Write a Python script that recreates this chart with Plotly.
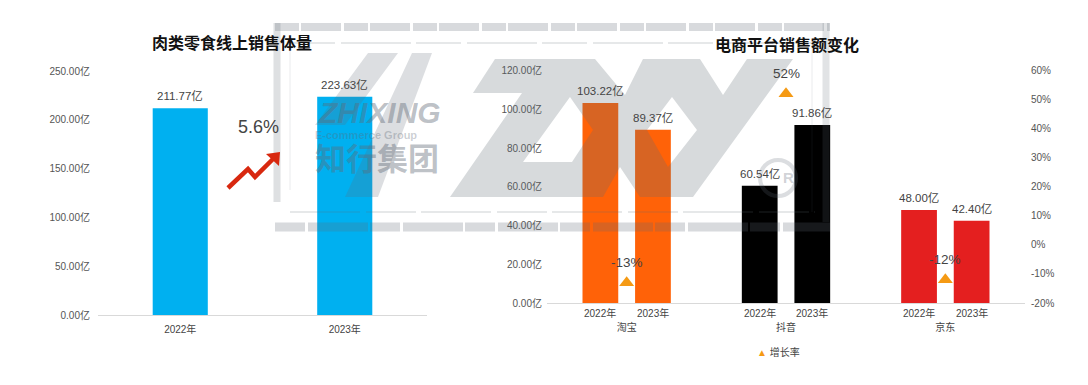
import plotly.graph_objects as go

W, H = 1088, 385
FONT = "Liberation Sans, Noto Sans CJK SC, sans-serif"

# ---- data ----
years = ["2022年", "2023年"]
volume = [211.77, 223.63]
volume_change = "5.6%"
platforms = ["淘宝", "抖音", "京东"]
sales_2022 = [103.22, 60.54, 48.00]
sales_2023 = [89.37, 91.86, 42.40]
growth = [-13, 52, -12]
platform_colors = ["#ff6208", "#000000", "#e41f1f"]
left_ticks = [0, 50, 100, 150, 200, 250]
right_ticks = [0, 20, 40, 60, 80, 100, 120]
growth_ticks = [-20, -10, 0, 10, 20, 30, 40, 50, 60]
growth_name = "增长率"
TRI = "#f59a14"


def px(x):
    return x / W


def py(y):
    return 1 - y / H


def path(*polys):
    out = []
    for poly in polys:
        pts = [f"{px(x):.5f},{py(y):.5f}" for x, y in poly]
        out.append("M" + " L".join(pts) + " Z")
    return " ".join(out)


fig = go.Figure()

fig.add_bar(x=years, y=volume, width=0.335, marker=dict(color="#00b0f0", line_width=0),
            xaxis="x", yaxis="y", showlegend=False)
fig.add_bar(x=platforms, y=sales_2022, name="2022年", marker=dict(color=platform_colors, line_width=0),
            xaxis="x2", yaxis="y2", showlegend=False)
fig.add_bar(x=platforms, y=sales_2023, name="2023年", marker=dict(color=platform_colors, line_width=0),
            xaxis="x2", yaxis="y2", showlegend=False)
fig.add_scatter(x=platforms, y=growth, name=growth_name, mode="markers",
                marker=dict(symbol="triangle-up", size=13, color=TRI, line_width=0),
                xaxis="x2", yaxis="y3", showlegend=False)

annotations = []


def note(text, x, y, size, color="#444444", **kw):
    family = kw.pop("family", FONT)
    kw.setdefault("xanchor", "center")
    kw.setdefault("yanchor", "middle")
    annotations.append(dict(text=text, x=x, y=y, showarrow=False,
                            font=dict(size=size, color=color, family=family), **kw))


# value labels, left chart
for yr, v in zip(years, volume):
    note(f"{v:.2f}亿", yr, v, 11.5, xref="x", yref="y", yanchor="bottom", yshift=4)
note(volume_change, px(258), py(127), 18, xref="paper", yref="paper")

# value labels, right chart
SHIFT = 26.2
for p, a, b, g in zip(platforms, sales_2022, sales_2023, growth):
    note(f"{a:.2f}亿", p, a, 11.5, xref="x2", yref="y2", yanchor="bottom", yshift=4, xshift=-SHIFT)
    note(f"{b:.2f}亿", p, b, 11.5, xref="x2", yref="y2", yanchor="bottom", yshift=4, xshift=SHIFT)
    note(f"{g}%", p, g, 13.5, xref="x2", yref="y3", yshift=20)
    note(years[0], p, py(313), 10, xref="x2", yref="paper", xshift=-SHIFT)
    note(years[1], p, py(313), 10, xref="x2", yref="paper", xshift=SHIFT)

# titles
note("<b>肉类零食线上销售体量</b>", px(232), py(43), 16, color="#111111", xref="paper", yref="paper")
note("<b>电商平台销售额变化</b>", px(787), py(45), 16, color="#111111", xref="paper", yref="paper")

# legend entry
note(f"<span style='color:{TRI};font-size:10px'>▲</span> {growth_name}", px(778), py(352), 10,
     xref="paper", yref="paper")

# watermark text
WM = "rgba(95,105,118,0.42)"
note("<b><i>ZHIXING</i></b>", px(379), py(112), 30, color=WM, xref="paper", yref="paper")
note("<b>E-commerce Group</b>", px(366), py(135), 11, color="rgba(95,105,118,0.32)", xref="paper", yref="paper")
note("<b>知行集团</b>", px(377), py(159), 31, color=WM, xref="paper", yref="paper")
note("<b>R</b>", px(788), py(178), 15, color="rgba(95,105,118,0.3)", xref="paper", yref="paper")

GREY = "#5f6a75"
zxy_outer = [(495, 59), (595, 59), (625, 95), (643, 59), (700, 59), (723, 95), (747, 59), (793, 59),
             (693, 197), (640, 197), (620, 167), (603, 197), (450, 197), (522, 93), (473, 93)]
zxy_hole1 = [(570, 97), (593, 130), (572, 162), (523, 162)]
zxy_hole2 = [(672, 97), (697, 130), (668, 167), (647, 130)]
slash1 = [(368, 53), (398, 53), (345, 125), (315, 125)]
slash2 = [(412, 53), (432, 53), (378, 197), (345, 197)]

shapes = [
    dict(type="path", path=path(zxy_outer, zxy_hole1, zxy_hole2), xref="paper", yref="paper",
         fillcolor=GREY, opacity=0.25, line_width=0, layer="above"),
    dict(type="path", path=path(slash1, slash2), xref="paper", yref="paper",
         fillcolor=GREY, opacity=0.22, line_width=0, layer="above"),
    dict(type="circle", x0=px(760), x1=px(796), y0=py(196), y1=py(160), xref="paper", yref="paper",
         line=dict(color=GREY, width=4), opacity=0.22, layer="above"),
]


def wm_line(x0, y0, x1, y1, width, dash, opacity):
    shapes.append(dict(type="line", x0=px(x0), x1=px(x1), y0=py(y0), y1=py(y1),
                       xref="paper", yref="paper", layer="above", opacity=opacity,
                       line=dict(color=GREY, width=width, dash=dash)))


wm_line(275, 27, 830, 27, 8, "24px,2px,40px,3px", 0.24)     # top band
wm_line(275, 227, 830, 227, 9, "30px,3px,60px,2px", 0.24)   # bottom band
wm_line(277, 23, 277, 202, 7, "solid", 0.2)                  # left bar
wm_line(826, 23, 826, 222, 7, "solid", 0.18)                 # right bar
wm_line(290, 43, 815, 43, 1.5, "45px,6px,70px,5px", 0.2)
wm_line(290, 212, 815, 212, 1.5, "70px,6px,50px,5px", 0.2)
wm_line(290, 43, 290, 190, 1, "solid", 0.12)
wm_line(812, 43, 812, 212, 1, "solid", 0.12)

# red arrow
RED = "#d8280f"
shapes.append(dict(type="path", xref="paper", yref="paper", layer="above", fillcolor="rgba(0,0,0,0)",
                   line=dict(color=RED, width=4.5),
                   path=f"M{px(228)},{py(188)} L{px(248)},{py(169)} L{px(255)},{py(177)} L{px(273)},{py(159)}"))
shapes.append(dict(type="path", xref="paper", yref="paper", layer="above", fillcolor=RED, line_width=0,
                   path=path([(266, 154), (280, 152), (279, 166)])))

axis_line = dict(showline=True, linecolor="#d9d9d9", linewidth=1, showgrid=False, zeroline=False,
                 ticks="", fixedrange=True)
tick_font = dict(size=10, color="#555555", family=FONT)


def yaxis_common(ticks, labels, **kw):
    return dict(showline=False, showgrid=False, zeroline=False, ticks="", tickfont=tick_font,
                tickvals=ticks, ticktext=labels, **kw)


fig.update_layout(
    width=W, height=H, margin=dict(l=0, r=0, t=0, b=0, autoexpand=False),
    paper_bgcolor="white", plot_bgcolor="white",
    barmode="group", bargap=0.34, bargroupgap=0.32, showlegend=False,
    font=dict(family=FONT),
    xaxis=dict(domain=[px(98), px(427)], anchor="y", type="category", tickfont=dict(size=10, color="#444444"),
               ticklabelstandoff=5, **axis_line),
    yaxis=dict(domain=[py(315), py(71)], anchor="x", range=[0, 250], ticklabelstandoff=7,
               **yaxis_common(left_ticks, [f"{t:.2f}亿" for t in left_ticks])),
    xaxis2=dict(domain=[px(547), px(1025)], anchor="y2", type="category", tickfont=dict(size=10, color="#444444"),
                ticklabelstandoff=15, **axis_line),
    yaxis2=dict(domain=[py(303), py(70.5)], anchor="x2", range=[0, 120], ticklabelstandoff=4,
                **yaxis_common(right_ticks, [f"{t:.2f}亿" for t in right_ticks])),
    yaxis3=dict(domain=[py(303), py(70.5)], anchor="x2", overlaying="y2", side="right", range=[-20, 60],
                ticklabelstandoff=5, **yaxis_common(growth_ticks, [f"{t}%" for t in growth_ticks])),
    annotations=annotations, shapes=shapes,
)

fig.write_html("out.html", config=dict(displayModeBar=False), post_script="document.body.style.margin='0';")
